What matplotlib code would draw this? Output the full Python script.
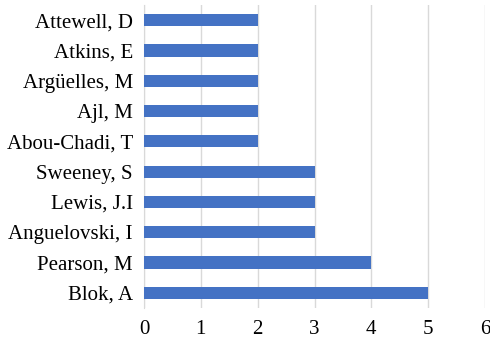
import matplotlib
matplotlib.use("Agg")
import matplotlib.pyplot as plt

authors = ["Blok, A", "Pearson, M", "Anguelovski, I", "Lewis, J.I", "Sweeney, S",
           "Abou-Chadi, T", "Ajl, M", "Argüelles, M", "Atkins, E", "Attewell, D"]
counts = [5, 4, 3, 3, 3, 2, 2, 2, 2, 2]
x_ticks = [0, 1, 2, 3, 4, 5, 6]

plt.rcParams["font.family"] = ["Liberation Serif", "DejaVu Serif"]

fig = plt.figure(figsize=(4.9, 3.41), dpi=100)
ax = fig.add_axes([0.2939, 0.0968, 0.6959, 0.8885])

ax.barh(range(len(authors)), counts, height=0.4, color="#4472C4", zorder=3)

ax.set_xlim(0, 6)
ax.set_ylim(-0.5, len(authors) - 0.5)
ax.set_xticks(x_ticks)
ax.set_xticklabels([str(t) for t in x_ticks])
ax.set_yticks(range(len(authors)))
ax.set_yticklabels(authors)

ax.grid(axis="x", color="#D9D9D9", linewidth=1, zorder=0)
for side in ["top", "right", "bottom"]:
    ax.spines[side].set_visible(False)
ax.spines["left"].set_color("#D9D9D9")
ax.tick_params(axis="both", length=0, labelsize=15, colors="#000000")
ax.tick_params(axis="x", pad=9)
ax.tick_params(axis="y", pad=8)

fig.savefig("out.png", dpi=100)
